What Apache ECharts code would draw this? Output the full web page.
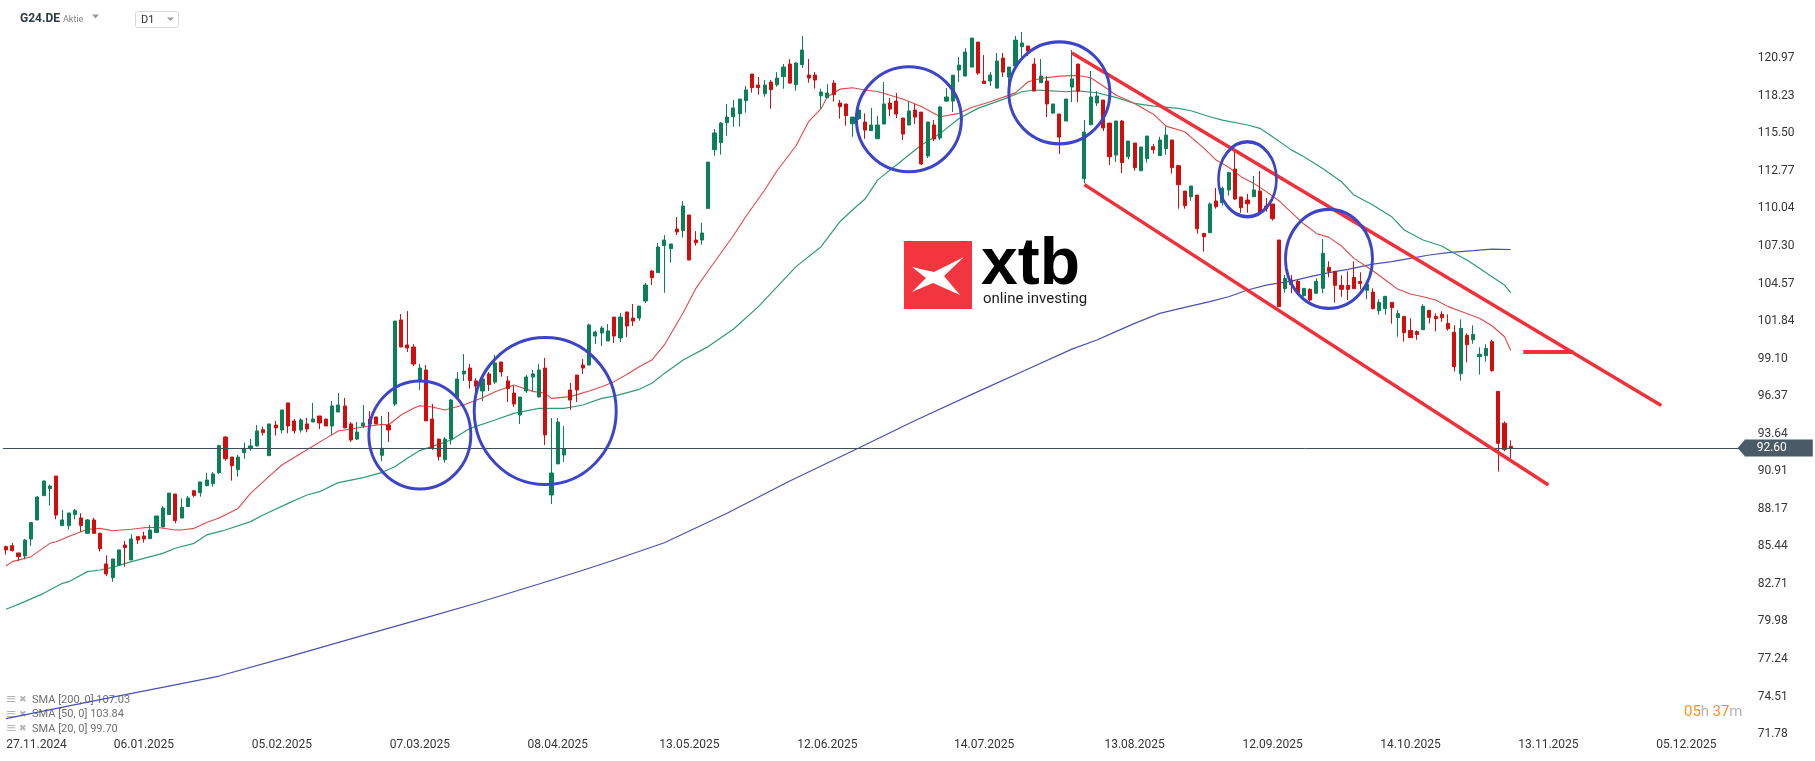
<!DOCTYPE html>
<html><head><meta charset="utf-8">
<script src="https://cdn.jsdelivr.net/npm/echarts@6/dist/echarts.min.js"></script>
<style>html,body{margin:0;padding:0;background:#fff}#c{width:1815px;height:761px}</style>
</head><body><div id="c"></div><script>
// ---- data ----
const opens=[85.42,85.49,84.96,84.74,85.98,87.36,89.13,89.64,90.56,86.95,
86.95,87.75,87.51,86.39,87.36,86.39,84.16,83.16,84.08,85.54,
84.45,86.15,86.20,86.00,86.44,86.85,87.75,89.25,87.50,88.33,
89.49,89.35,89.86,90.00,90.80,93.40,91.94,91.02,92.26,92.55,
92.75,93.93,92.04,94.27,93.91,95.88,94.57,93.91,94.35,94.49,
94.93,94.71,94.20,95.22,95.66,94.35,93.25,94.20,94.71,94.86,
92.07,94.27,95.80,101.92,100.10,99.95,97.55,98.28,94.71,93.25,
91.75,93.25,96.26,97.99,98.42,97.48,96.75,97.99,97.40,98.86,
97.48,96.60,95.00,96.75,97.77,96.31,98.42,89.18,91.44,92.09,
96.82,97.91,98.64,98.64,100.75,100.97,100.39,102.13,100.61,102.50,
102.06,102.06,103.30,105.48,105.36,107.33,107.11,108.54,108.42,109.56,
107.74,107.74,110.04,114.31,114.82,116.28,116.71,116.93,117.88,119.82,
119.02,118.39,119.24,119.04,119.63,120.55,119.04,120.50,119.75,119.75,
118.24,118.10,119.16,117.71,117.64,116.20,116.57,116.33,115.70,115.11,
116.18,117.71,117.85,116.62,116.11,117.20,117.05,113.85,116.11,115.16,
117.85,117.85,120.11,119.67,120.33,122.15,119.31,119.31,118.80,120.98,
119.60,120.40,121.81,121.86,120.55,119.19,119.31,116.98,116.91,116.40,
118.87,120.55,112.20,116.13,117.71,117.93,116.25,113.92,116.40,113.80,
114.80,112.78,113.66,114.53,113.88,114.39,115.02,113.15,111.30,110.89,
111.01,108.22,108.27,110.58,110.46,111.38,112.91,110.87,110.65,110.89,
111.30,110.21,110.36,107.74,104.20,104.83,104.73,103.69,104.15,103.86,
104.22,105.75,105.46,104.44,104.44,105.02,104.73,104.08,103.95,102.59,
102.74,103.20,102.09,102.18,101.16,101.07,101.21,102.62,102.18,102.33,
101.67,101.02,98.01,100.80,100.48,99.25,99.32,100.34,96.72,94.40,
92.72];
const closes=[85.18,85.13,84.69,85.90,87.17,89.03,90.20,89.83,87.72,87.36,
87.87,88.04,86.95,87.36,86.39,85.27,83.43,84.52,85.18,85.35,
85.98,85.90,85.98,86.63,87.65,88.23,89.32,87.31,88.28,88.96,
89.15,90.13,90.27,90.71,92.77,91.82,91.31,91.94,92.58,92.75,
93.84,93.72,94.35,94.06,95.37,94.20,93.86,94.64,93.98,94.71,
94.42,94.20,95.66,95.73,94.06,93.18,93.76,94.42,94.35,94.35,
92.58,93.91,101.84,99.95,99.88,98.71,98.42,94.57,92.58,91.97,
93.25,96.09,97.62,98.20,97.50,97.11,97.62,97.21,98.79,98.13,
96.92,95.80,96.31,97.77,97.99,98.28,93.55,90.78,94.49,92.53,
96.09,96.82,98.42,101.55,101.04,101.33,101.12,100.75,102.13,101.48,
101.84,102.93,104.46,104.99,107.23,107.74,107.45,108.32,110.21,106.28,
107.54,108.25,113.41,115.53,116.25,116.69,117.35,118.00,118.66,118.83,
118.83,119.02,118.68,119.53,120.33,119.16,120.62,121.57,119.53,119.38,
118.51,118.44,118.32,117.44,116.79,116.69,117.20,115.74,116.11,116.11,
117.64,117.27,116.91,115.45,117.13,116.69,113.27,116.33,115.09,117.42,
118.15,119.74,120.47,121.42,122.44,119.89,119.14,119.75,120.77,119.96,
120.33,122.29,122.08,121.49,118.58,119.67,117.64,117.64,115.23,118.00,
119.46,118.58,115.60,118.15,118.22,115.89,113.80,116.40,113.37,114.94,
113.00,114.51,115.31,114.31,115.02,115.38,113.00,111.76,110.24,111.67,
108.56,107.98,110.36,110.16,111.50,112.64,110.72,110.09,110.38,111.38,
109.73,110.02,109.29,102.89,104.95,104.49,103.86,104.22,103.37,104.73,
106.77,105.46,104.44,104.15,104.15,104.20,104.58,104.51,102.74,103.20,
103.64,102.81,102.38,100.99,100.63,100.87,102.91,102.11,102.01,102.09,
101.28,98.52,101.31,100.12,100.87,99.42,99.85,98.23,92.94,92.50,
92.60];
const highs=[85.49,85.69,84.96,85.98,87.21,89.11,90.22,89.93,90.56,88.09,
87.87,88.16,87.85,87.43,87.51,86.44,84.79,84.52,85.18,85.83,
86.32,86.15,86.51,87.00,87.65,88.38,89.32,89.25,88.94,89.11,
89.54,90.13,90.80,90.85,92.84,93.47,91.94,92.09,92.99,93.26,
94.27,94.15,94.35,94.57,95.37,95.88,94.71,94.78,94.78,95.88,
94.93,94.71,96.02,96.60,96.24,94.49,94.49,95.73,95.29,94.86,
94.93,95.22,101.84,102.35,102.57,100.17,98.71,98.64,95.80,93.25,
93.40,96.17,98.13,99.44,98.71,97.67,97.79,98.13,99.37,98.86,
97.84,97.11,96.31,97.91,98.28,98.71,99.15,94.78,94.78,94.20,
97.33,97.91,99.08,101.65,101.14,101.48,101.62,102.13,102.43,102.50,
103.08,102.93,104.61,105.55,107.52,108.10,107.45,109.41,110.58,109.56,
108.39,108.98,113.41,115.82,116.33,117.64,117.93,118.00,118.95,119.82,
119.60,119.38,119.38,119.96,120.55,120.91,120.69,122.59,120.91,119.96,
118.75,119.09,119.38,117.93,117.64,116.69,117.56,116.96,117.35,116.76,
119.24,118.07,118.44,116.62,117.85,117.64,117.05,116.33,116.47,117.49,
118.80,119.74,121.06,121.71,122.44,122.15,121.20,119.96,121.35,121.35,
120.33,122.59,122.88,121.86,120.98,120.91,119.67,117.64,116.91,118.00,
121.57,120.55,116.47,120.04,118.58,117.93,116.25,116.40,116.47,114.94,
114.80,114.51,115.31,114.73,115.26,115.99,115.02,113.22,111.30,111.67,
111.01,108.22,110.46,111.52,111.62,112.71,114.29,110.87,111.09,112.40,
112.76,110.79,110.36,107.74,105.19,105.19,104.83,104.22,104.22,104.95,
107.81,106.19,105.46,105.17,105.46,106.19,105.39,104.58,104.22,103.42,
103.64,103.20,102.64,102.18,102.04,101.16,103.06,102.62,102.40,102.55,
102.33,101.53,101.96,100.95,101.53,99.93,100.15,100.48,96.72,94.54,
93.16];
const lows=[84.84,85.06,84.38,84.50,85.47,87.36,89.11,88.40,87.41,86.95,
86.66,87.41,86.51,86.34,86.34,85.06,83.28,82.87,84.08,83.96,
84.45,85.61,85.71,85.98,86.44,86.85,87.75,87.12,87.50,88.33,
89.01,89.06,89.79,89.79,90.71,91.68,90.22,90.51,91.82,92.41,
92.70,93.50,92.04,93.50,93.67,93.67,93.64,93.72,93.74,94.49,
93.98,94.20,93.55,95.22,94.06,93.04,93.18,94.06,94.20,94.35,
91.63,93.04,95.66,99.95,99.59,98.57,96.82,94.57,92.46,91.68,
91.53,92.84,96.26,97.48,96.92,96.53,96.02,96.75,97.26,97.79,
95.95,95.58,94.35,96.60,96.75,96.31,92.82,88.52,91.44,91.58,
95.37,95.95,97.99,98.64,100.17,100.02,100.39,100.24,100.31,100.68,
101.48,101.87,103.15,104.46,105.36,103.90,106.09,108.10,107.91,106.28,
107.33,107.40,109.99,113.88,113.95,115.33,115.99,115.99,117.00,118.46,
118.32,118.17,117.30,118.90,118.75,119.12,118.61,120.26,119.19,118.75,
117.30,118.10,117.81,116.57,116.06,115.26,116.47,115.11,115.70,115.11,
116.18,116.76,116.62,115.02,116.11,116.18,113.20,113.71,114.94,115.02,
117.78,117.05,119.24,119.67,120.33,119.75,119.14,118.95,118.75,119.60,
118.95,120.40,120.98,121.13,118.58,119.19,116.69,116.91,114.00,116.40,
117.78,117.78,111.86,116.13,117.49,115.67,113.20,113.41,112.61,113.61,
112.78,112.78,113.37,114.02,113.88,113.95,112.57,110.02,110.02,110.60,
108.20,106.89,108.27,110.02,110.24,110.96,110.65,109.73,109.73,110.89,
109.73,109.80,109.15,102.89,103.90,103.86,103.74,103.61,103.25,103.86,
103.86,105.02,103.18,103.61,103.37,104.20,104.15,103.42,102.69,102.30,
102.30,101.65,100.70,100.34,100.63,100.48,101.21,101.67,101.09,101.79,
101.14,98.16,97.50,98.83,100.19,97.94,98.88,98.16,90.88,92.36,
91.85];

// moving averages, points: [bar index, value]
const sma20=[[0,84.01],[1,84.33],[4,84.69],[7,85.66],[8,85.78],[10,86.15],[13,86.68],[15,86.75],[17,86.58],[20,86.68],[22,86.80],[24,86.83],[27,86.63],[28,86.63],[30,86.75],[32,87.17],[34,87.5],[37,88.2],[39,89.3],[42,90.55],[44,91.36],[47,92.2],[49,92.75],[51,93.3],[53,93.84],[56,94.06],[58,94.2],[60,94.32],[61,94.27],[63,95.0],[65,95.49],[66,95.68],[68,95.58],[70,95.37],[73,95.73],[76,96.25],[78,96.7],[81,97.19],[84,96.72],[86,96.58],[87,96.21],[90,96.34],[93,96.75],[95,97.06],[97,97.43],[99,97.95],[101,98.52],[103,99.0],[105,100.1],[108,102.45],[110,104.2],[112,105.5],[116,108.05],[118,109.45],[121,111.38],[123,112.8],[126,114.6],[128,116.35],[130,117.3],[131,118.17],[133,118.72],[135,118.82],[137,118.66],[139,118.55],[143,118.0],[146,117.45],[149,116.71],[152,116.96],[154,117.39],[157,117.81],[161,118.45],[163,119.26],[165,119.5],[168,119.67],[171,119.72],[173,119.55],[175,118.95],[177,118.29],[180,117.68],[183,116.9],[185,116.03],[188,115.62],[191,114.45],[193,113.56],[195,113.04],[197,112.35],[199,111.86],[201,111.26],[203,110.6],[205,109.75],[207,108.9],[209,108.22],[211,107.93],[213,107.3],[215,106.4],[218,105.5],[220,104.83],[222,104.15],[224,103.81],[226,103.61],[228,103.37],[230,102.89],[232,102.55],[235,102.05],[237,101.5],[239,100.7],[240,99.7]];
const sma50=[[0,80.86],[3,81.42],[6,82.02],[9,82.75],[10,82.87],[13,83.6],[15,83.72],[17,83.91],[20,84.33],[22,84.57],[25,84.93],[27,85.3],[30,85.66],[32,86.27],[34,86.51],[35,86.63],[39,87.24],[41,87.72],[45,88.57],[48,89.18],[50,89.42],[53,90.08],[57,90.44],[60,90.83],[62,91.24],[64,91.85],[66,92.41],[68,92.72],[71,93.18],[74,94.03],[78,94.64],[81,95.12],[85,95.49],[89,95.49],[92,95.73],[95,96.21],[97,96.38],[101,96.87],[103,97.31],[105,98.03],[108,99.0],[112,99.98],[116,101.24],[120,102.89],[123,104.34],[126,105.8],[130,107.25],[133,109.07],[135,109.92],[137,110.72],[139,112.1],[143,113.56],[146,114.65],[149,115.5],[152,116.59],[155,117.32],[159,117.98],[162,118.53],[164,118.66],[166,118.61],[169,118.53],[171,118.6],[174,118.46],[177,118.12],[180,117.68],[183,117.49],[187,117.32],[189,117.15],[192,116.71],[194,116.47],[198,116.11],[200,115.87],[202,115.26],[205,114.3],[207,113.8],[210,112.95],[213,111.98],[215,111.01],[218,110.29],[221,109.44],[223,108.47],[226,107.74],[229,107.3],[231,106.77],[233,106.28],[235,105.68],[237,105.07],[239,104.46],[240,103.9]];
const sma200=[[0,72.9],[16,74.38],[28,75.45],[34,76.0],[45,77.4],[55,78.7],[67,80.25],[75,81.3],[85,82.7],[92,83.7],[97,84.45],[105,85.7],[115,87.85],[125,90.2],[136,92.6],[145,94.6],[155,96.7],[163,98.35],[170,99.8],[174,100.46],[177,101.07],[180,101.67],[184,102.4],[188,102.84],[192,103.25],[195,103.61],[198,104.1],[201,104.46],[205,104.75],[208,105.07],[211,105.36],[214,105.6],[218,105.99],[221,106.16],[224,106.4],[227,106.65],[230,106.82],[234,106.96],[237,107.08],[240,107.05]];

// drawn annotations in data space
const channelUpper=[[170,121.36],[264,95.69]];
const channelLower=[[172,111.77],[246,89.91]];
const targetLine=[[242,99.59],[250,99.59]];
const circleCenters=[[66,93.55],[86,95.29],[144,116.53],[168,118.45],[198,112.16],[211,106.37]];
const circleSizes=[[102,108],[142,147],[105,105],[101,102],[58,75],[87,99]];

// axes
const barCount=277;
const categories=Array.from({length:barCount},(_,i)=>String(i));
const xTickIdx=[0,22,44,66,88,109,131,156,180,202,224,246,268];
const xTickLabels=['27.11.2024','06.01.2025','05.02.2025','07.03.2025','08.04.2025','13.05.2025','12.06.2025','14.07.2025','13.08.2025','12.09.2025','14.10.2025','13.11.2025','05.12.2025'];
const yTicks=[71.78,74.51,77.24,79.98,82.71,85.44,88.17,90.91,93.64,96.37,99.10,101.84,104.57,107.30,110.04,112.77,115.50,118.23,120.97];
const lastPrice=92.60;
const legendRows=['SMA [200, 0] 107.03','SMA [50, 0] 103.84','SMA [20, 0] 99.70'];

// ---- chart ----
const tickMap={}; xTickIdx.forEach((k,j)=>tickMap[k]=xTickLabels[j]);
const candles=opens.map((o,i)=>[o,closes[i],lows[i],highs[i]]);
const UP='#0b7f56', DOWN='#d20d0d';
const chart=echarts.init(document.getElementById('c'),null,{renderer:'canvas',width:1815,height:761});
const lineS=(name,data,color,w)=>({name,type:'line',data,symbol:'none',silent:true,smooth:false,
  lineStyle:{color,width:w},itemStyle:{color},z:2,emphasis:{disabled:true}});
const legendY=[700,714.5,729];
const graphic=[
  {type:'text',x:20,y:19,style:{text:'G24.DE',font:'bold 12px Roboto',fill:'#2e3a44',verticalAlign:'middle'}},
  {type:'text',x:63,y:19.5,style:{text:'Aktie',font:'9px Roboto',fill:'#808080',verticalAlign:'middle'}},
  {type:'polygon',shape:{points:[[92,14.5],[99,14.5],[95.5,18.5]]},style:{fill:'#9a9a9a'}},
  {type:'rect',shape:{x:135.5,y:11.5,width:43,height:16,r:2},style:{fill:'#fff',stroke:'#d8d8d8',lineWidth:1}},
  {type:'text',x:141,y:20,style:{text:'D1',font:'11px Roboto',fill:'#333',verticalAlign:'middle'}},
  {type:'polygon',shape:{points:[[167,17.5],[174,17.5],[170.5,21]]},style:{fill:'#9a9a9a'}},
  // watermark logo
  {type:'rect',shape:{x:904,y:241,width:68,height:68},style:{fill:'#f2353f'}},
  {type:'polygon',shape:{points:[[912,267],[934,272],[964,257],[944,276],[960,295],[933,283],[912,292],[926,278]]},style:{fill:'#fff'}},
  {type:'text',x:981,y:266,style:{text:'xtb',font:'bold 66px "Liberation Sans"',fill:'#000',verticalAlign:'middle'}},
  {type:'text',x:983,y:299,style:{text:'online investing',font:'15px Roboto',fill:'#1c1c1c',verticalAlign:'middle'}},
  // countdown
  {type:'text',x:1684,y:712,style:{text:'{o|05}{g|h} {o|37}{g|m}',verticalAlign:'middle',
    rich:{o:{fill:'#f7941d',font:'15px Roboto'},g:{fill:'#b5b5b5',font:'15px Roboto'}}}}
];
legendRows.forEach((t,k)=>{
  graphic.push({type:'text',x:6,y:legendY[k],style:{text:'≡',font:'13px "DejaVu Sans"',fill:'#b3b3b3',verticalAlign:'middle'}});
  graphic.push({type:'text',x:19,y:legendY[k],style:{text:'✖',font:'9px "DejaVu Sans"',fill:'#b3b3b3',verticalAlign:'middle'}});
  graphic.push({type:'text',x:32,y:legendY[k],style:{text:t,font:'11px Roboto',fill:'#707070',verticalAlign:'middle'}});
});

const option={
  animation:false,
  backgroundColor:'#fff',
  grid:{left:2.865,right:75.345,top:0,bottom:23,containLabel:false},
  xAxis:{type:'category',data:categories,boundaryGap:true,
    axisLine:{show:false},axisTick:{show:false},splitLine:{show:false},
    axisLabel:{interval:(i)=>tickMap[i]!==undefined,formatter:(v,i)=>i===0?'{first|'+tickMap[i]+'}':(tickMap[i]||''),
      color:'#353535',fontSize:12,fontFamily:'Roboto',margin:1,
      rich:{first:{padding:[0,0,0,61],color:'#353535',fontSize:12,fontFamily:'Roboto'}}}},
  yAxis:{type:'value',position:'right',min:71.49,max:125.21,
    axisLine:{show:false},axisTick:{show:false},splitLine:{show:false},
    axisLabel:{customValues:yTicks,formatter:(v)=>v.toFixed(2),color:'#353535',fontSize:12,fontFamily:'Roboto',margin:18}},
  graphic,
  series:[
    lineS('SMA200',sma200,'#4b50b3',1.2),
    lineS('SMA50',sma50,'#2f9c72',1.2),
    lineS('SMA20',sma20,'#e2484c',1.1),
    {type:'candlestick',data:candles,barWidth:3.6,silent:true,z:3,
      itemStyle:{color:UP,color0:DOWN,borderColor:UP,borderColor0:DOWN,borderWidth:1},
      markLine:{silent:true,symbol:['none','none'],animation:false,
        lineStyle:{color:'#3f4f5a',width:1,type:'solid'},
        label:{show:true,position:'end',distance:5,formatter:lastPrice.toFixed(2),color:'#fff',
          backgroundColor:'#4a5a66',padding:[3,26,2,12],fontSize:12,fontFamily:'Roboto'},
        emphasis:{disabled:true},
        data:[{yAxis:lastPrice}]}},
    {type:'line',data:channelUpper,symbol:'none',silent:true,z:6,lineStyle:{color:'#f0303a',width:3.5},emphasis:{disabled:true}},
    {type:'line',data:channelLower,symbol:'none',silent:true,z:6,lineStyle:{color:'#f0303a',width:3.5},emphasis:{disabled:true}},
    {type:'line',data:targetLine,symbol:'none',silent:true,z:6,lineStyle:{color:'#f0303a',width:4},emphasis:{disabled:true}},
    {type:'scatter',data:circleCenters,silent:true,z:7,
      symbol:'circle',symbolSize:(v,p)=>circleSizes[p.dataIndex],
      itemStyle:{color:'rgba(0,0,0,0)',borderColor:'#3c45c8',borderWidth:3,opacity:1},emphasis:{disabled:true}}
  ]
};
chart.setOption(option);
// arrow of the last-price tag
const py=chart.convertToPixel({yAxisIndex:0},lastPrice);
const gx=chart.convertToPixel({xAxisIndex:0},barCount-1)+3.1;
chart.setOption({graphic:graphic.concat([{type:'polygon',shape:{points:[[gx-2,py],[gx+5.5,py-8.5],[gx+5.5,py+8.5]]},style:{fill:'#4a5a66'}}])});
</script></body></html>
